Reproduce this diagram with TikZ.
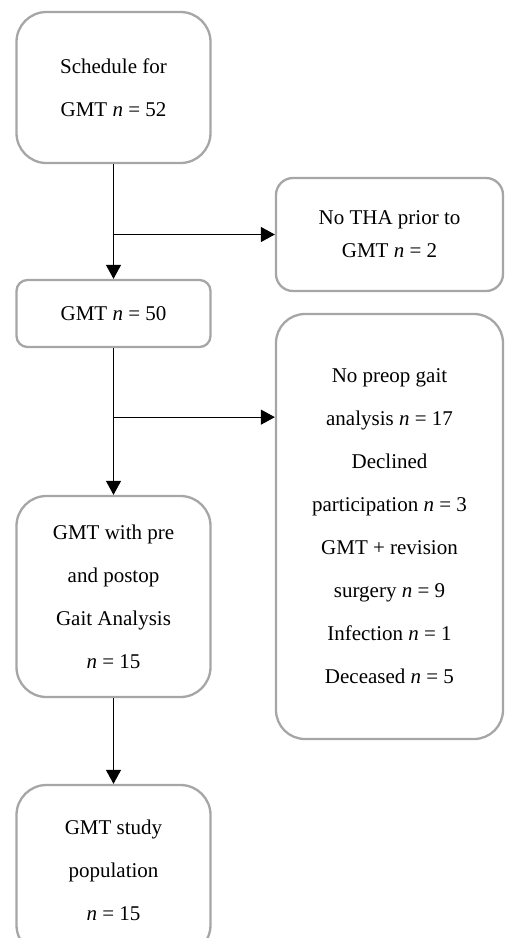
\documentclass[tikz,border=0pt]{standalone}
\usepackage{fontspec}
\setmainfont{Liberation Serif}
\usepackage{tikz}
\usetikzlibrary{arrows.meta, calc}
\usepackage{xcolor}
\definecolor{boxgray}{HTML}{A6A6A6}

\begin{document}
\begin{tikzpicture}[x=1pt, y=-1pt, >={Triangle[length=14pt, width=15pt]},
    flowbox/.style={draw=boxgray, line width=2.3pt, align=center, inner sep=0pt,
      font=\fontsize{21}{43}\selectfont},
    leftbox/.style={flowbox, minimum width=194pt},
    rightbox/.style={flowbox, minimum width=227pt},
    link/.style={->, line width=1.1pt}]
  \useasboundingbox (0,0) rectangle (504,938);
  \clip (0,0) rectangle (504,938);
  % Main column
  \node[leftbox, minimum height=151pt, rounded corners=30pt] (sched) at (113.5,87.5)
    {Schedule for\\GMT \textit{n} = 52};
  \node[leftbox, minimum height=67pt, rounded corners=11pt] (gmt50) at (113.5,313.5)
    {GMT \textit{n} = 50};
  \node[leftbox, minimum height=201pt, rounded corners=30pt] (gait) at (113.5,596.5)
    {GMT with pre\\and postop\\Gait Analysis\\\textit{n} = 15};
  \node[leftbox, minimum height=170pt, rounded corners=30pt] (study) at (113.5,870)
    {GMT study\\population\\\textit{n} = 15};
  % Exclusions
  \node[rightbox, minimum height=113pt, rounded corners=17pt,
    font=\fontsize{21}{33}\selectfont] (notha) at (389.5,234.5)
    {No THA prior to\\GMT \textit{n} = 2};
  \node[rightbox, minimum height=425pt, rounded corners=29pt] (nopreop) at (389.5,526.5)
    {No preop gait\\analysis \textit{n} = 17\\Declined\\participation \textit{n} = 3\\
     GMT + revision\\surgery \textit{n} = 9\\Infection \textit{n} = 1\\Deceased \textit{n} = 5};
  \coordinate (j1) at (sched.south |- notha.west);
  \coordinate (j2) at ($(gmt50.south)+(0,69)$);
  % Arrows
  \draw[link] (sched) -- (gmt50);
  \draw[link] (gmt50) -- (gait);
  \draw[link] (gait) -- (study);
  \draw[link] (j1) -- (notha.west);
  \draw[link] (j2) -- (j2 -| nopreop.west);
\end{tikzpicture}
\end{document}
